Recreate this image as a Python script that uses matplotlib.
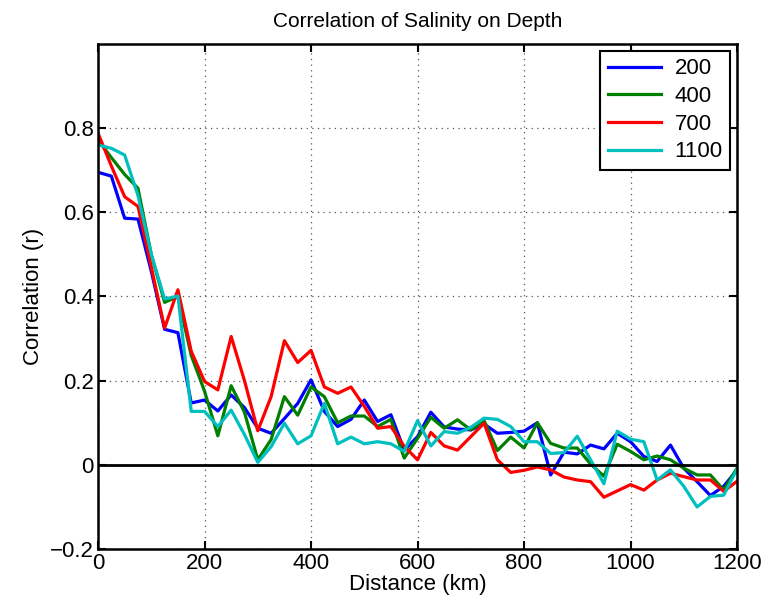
import numpy as np
import matplotlib
matplotlib.use("Agg")
import matplotlib.pyplot as plt

plt.rcParams['font.family'] = ['Liberation Sans', 'DejaVu Sans']

# distance along section, every 25 km
distance = np.arange(0, 1201, 25)

corr_200 = [0.695, 0.686, 0.586, 0.584, 0.46, 0.322, 0.314, 0.147, 0.154, 0.128,
            0.166, 0.136, 0.087, 0.075, 0.11, 0.146, 0.202, 0.127, 0.091, 0.108,
            0.154, 0.103, 0.119, 0.035, 0.067, 0.125, 0.09, 0.085, 0.083, 0.097,
            0.075, 0.077, 0.08, 0.10, -0.024, 0.03, 0.026, 0.047, 0.038, 0.075,
            0.055, 0.02, 0.008, 0.047, -0.008, -0.04, -0.073, -0.051, -0.012]
corr_400 = [0.772, 0.73, 0.69, 0.657, 0.50, 0.386, 0.40, 0.26, 0.175, 0.069,
            0.188, 0.125, 0.012, 0.06, 0.162, 0.118, 0.185, 0.162, 0.10, 0.116,
            0.116, 0.091, 0.108, 0.016, 0.063, 0.113, 0.087, 0.107, 0.083, 0.105,
            0.034, 0.066, 0.04, 0.10, 0.051, 0.04, 0.04, 0.002, -0.027, 0.049,
            0.032, 0.012, 0.021, 0.012, -0.008, -0.024, -0.024, -0.06, -0.008]
corr_700 = [0.788, 0.71, 0.637, 0.614, 0.47, 0.325, 0.416, 0.27, 0.198, 0.178,
            0.305, 0.2, 0.081, 0.162, 0.295, 0.243, 0.272, 0.185, 0.17, 0.185,
            0.139, 0.087, 0.091, 0.044, 0.012, 0.077, 0.045, 0.035, 0.067, 0.099,
            0.012, -0.018, -0.013, -0.005, -0.012, -0.029, -0.036, -0.04, -0.077, -0.062,
            -0.047, -0.06, -0.036, -0.02, -0.028, -0.036, -0.036, -0.063, -0.039]
corr_1100 = [0.76, 0.752, 0.736, 0.64, 0.50, 0.394, 0.401, 0.127, 0.127, 0.091,
             0.13, 0.072, 0.006, 0.043, 0.099, 0.05, 0.069, 0.146, 0.05, 0.066,
             0.05, 0.055, 0.05, 0.032, 0.105, 0.045, 0.079, 0.075, 0.089, 0.111,
             0.108, 0.091, 0.055, 0.055, 0.027, 0.029, 0.068, 0.012, -0.045, 0.08,
             0.061, 0.055, -0.036, -0.012, -0.051, -0.1, -0.075, -0.072, -0.01]

depths = ['200', '400', '700', '1100']
series = [corr_200, corr_400, corr_700, corr_1100]
colors = ['#0000ff', '#008000', '#ff0000', '#00bfbf']

xticks = [0, 200, 400, 600, 800, 1000, 1200]
yticks = [-0.2, 0, 0.2, 0.4, 0.6, 0.8]

fig = plt.figure(figsize=(7.75, 6.02), dpi=100)
ax = fig.add_axes([0.1265, 0.088, 0.8245, 0.839])

for label, vals, c in zip(depths, series, colors):
    ax.plot(distance, vals, color=c, lw=2.3, label=label)

ax.axhline(0, color='black', lw=2.0)

ax.set_xlim(0, 1200)
ax.set_ylim(-0.2, 1.0)
ax.set_xticks(xticks)
ax.set_yticks(yticks)
ax.set_yticklabels(['\u22120.2', '0', '0.2', '0.4', '0.6', '0.8'])
ax.grid(True, linestyle=(0, (1, 3.5)), color='#555555', lw=0.9)
ax.tick_params(direction='in', length=6, width=1.5, top=True, right=True,
               labelsize=16, pad=3)
for sp in ax.spines.values():
    sp.set_linewidth(1.8)

ax.set_xlabel('Distance (km)', fontsize=16, labelpad=0)
ax.set_ylabel('Correlation (r)', fontsize=16, labelpad=4)
ax.set_title('Correlation of Salinity on Depth', fontsize=15, pad=12)

leg = ax.legend(loc='upper right', fontsize=16, fancybox=False, framealpha=1,
                edgecolor='black', borderaxespad=0.3, handlelength=2.4,
                labelspacing=0.3, borderpad=0.35, handletextpad=0.6)
leg.get_frame().set_linewidth(1.5)

fig.savefig('out.png', dpi=100)
